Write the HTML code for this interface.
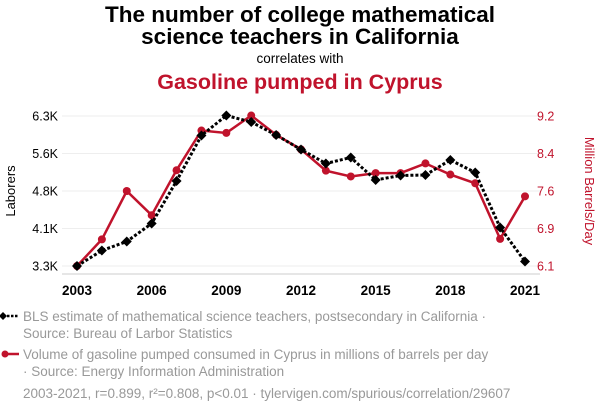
<!DOCTYPE html>
<html><head><meta charset="utf-8"><style>
body{margin:0;background:#fff;width:600px;height:414px;overflow:hidden;font-family:"Liberation Sans",Arial,sans-serif}
svg text{font-family:"Liberation Sans",Arial,sans-serif}
</style></head><body>
<svg id="chart" width="600" height="414" xmlns="http://www.w3.org/2000/svg">
<text x="300" y="22" text-anchor="middle" font-size="22.5" font-weight="bold" fill="#000">The number of college mathematical</text>
<text x="300" y="44" text-anchor="middle" font-size="22.5" font-weight="bold" fill="#000">science teachers in California</text>
<text x="300" y="63" text-anchor="middle" font-size="13.5" fill="#000">correlates with</text>
<text x="300" y="89" text-anchor="middle" font-size="21.5" font-weight="bold" fill="#c0132c">Gasoline pumped in Cyprus</text>
<g id="grid"></g><g id="axes"></g><g id="series"></g>
<text transform="translate(15,191) rotate(-90)" text-anchor="middle" font-size="13" fill="#000">Laborers</text>
<text transform="translate(585,191) rotate(90)" text-anchor="middle" font-size="13" fill="#c0132c">Million Barrels/Day</text>
<g>
<line x1="3" y1="316" x2="19" y2="316" stroke="#000" stroke-width="2.5" stroke-dasharray="2.5,1.5"/>
<path d="M3,312 L7,316 L3,320 L-1,316Z" fill="#000"/>
<text x="23" y="321" font-size="13.5" fill="#999">BLS estimate of mathematical science teachers, postsecondary in California ·</text>
<text x="23" y="338" font-size="13.5" fill="#999">Source: Bureau of Larbor Statistics</text>
</g>
<g>
<line x1="3" y1="354" x2="19" y2="354" stroke="#c0132c" stroke-width="2.5"/>
<circle cx="5" cy="354" r="3.5" fill="#c0132c"/>
<text x="23" y="359" font-size="13.5" fill="#999">Volume of gasoline pumped consumed in Cyprus in millions of barrels per day</text>
<text x="23" y="376" font-size="13.5" fill="#999">· Source: Energy Information Administration</text>
</g>
<text x="23" y="398" font-size="13.5" fill="#999">2003-2021, r=0.899, r²=0.808, p&lt;0.01 · tylervigen.com/spurious/correlation/29607</text>
</svg>
<script>
const years=[2003,2004,2005,2006,2007,2008,2009,2010,2011,2012,2013,2014,2015,2016,2017,2018,2019,2020,2021];
const teachers=[3300,3610,3790,4150,5000,5910,6310,6180,5920,5630,5350,5470,5020,5110,5120,5420,5170,4070,3390];
const gasoline=[6.10,6.65,7.65,7.15,8.08,8.90,8.85,9.21,8.81,8.51,8.07,7.95,8.02,8.02,8.22,7.99,7.81,6.66,7.54];
const leftTicks=[3300,4050,4800,5550,6300];
const leftLabels=["3.3K","4.1K","4.8K","5.6K","6.3K"];
const rightTicks=[6.1,6.875,7.65,8.425,9.2];
const rightLabels=["6.1","6.9","7.6","8.4","9.2"];
const xTicks=[2003,2006,2009,2012,2015,2018,2021];
const NS="http://www.w3.org/2000/svg";
const X=y=>77+(y-2003)/(2021-2003)*448;
const YL=v=>266-(v-3300)/3000*150;
const YR=v=>266-(v-6.1)/3.1*150;
function mk(t,a,p){const e=document.createElementNS(NS,t);for(const k in a)e.setAttribute(k,a[k]);p.appendChild(e);return e;}
const grid=document.getElementById('grid'),axes=document.getElementById('axes'),ser=document.getElementById('series');
leftTicks.forEach((v,i)=>{
 const g=mk('line',{x1:62,x2:540,y1:YL(v),y2:YL(v),stroke:'#eee','stroke-width':1},grid);
 
 
 const t=mk('text',{x:58,y:YL(v)+4.5,'text-anchor':'end','font-size':12.5,fill:'#000'},axes);t.textContent=leftLabels[i];
 
 
});
rightTicks.forEach((v,i)=>{
 const t=mk('text',{x:537,y:YR(v)+4.5,'font-size':12.5,fill:'#c0132c'},axes);t.textContent=rightLabels[i];
 
 
});
const ax=mk('line',{x1:62,x2:540,y1:274,y2:274,stroke:'#ccc','stroke-width':1},axes);


xTicks.forEach(y=>{
 const t=mk('text',{x:X(y),y:295,'text-anchor':'middle','font-size':13.5,'font-weight':'bold',fill:'#000'},axes);t.textContent=y;
 
 
});
const rl=mk('polyline',{points:years.map((y,i)=>X(y)+','+YR(gasoline[i])).join(' '),fill:'none',stroke:'#c0132c','stroke-width':2.5},ser);


years.forEach((y,i)=>{const c=mk('circle',{cx:X(y),cy:YR(gasoline[i]),r:4,fill:'#c0132c'},ser);
 
 });
const bl=mk('polyline',{points:years.map((y,i)=>X(y)+','+YL(teachers[i])).join(' '),fill:'none',stroke:'#000','stroke-width':3,'stroke-dasharray':'3,2'},ser);


years.forEach((y,i)=>{const x=X(y),v=YL(teachers[i]);
 const d=mk('path',{d:`M${x},${v-5}L${x+5},${v}L${x},${v+5}L${x-5},${v}Z`,fill:'#000'},ser);
 
 });
</script>
</body></html>
